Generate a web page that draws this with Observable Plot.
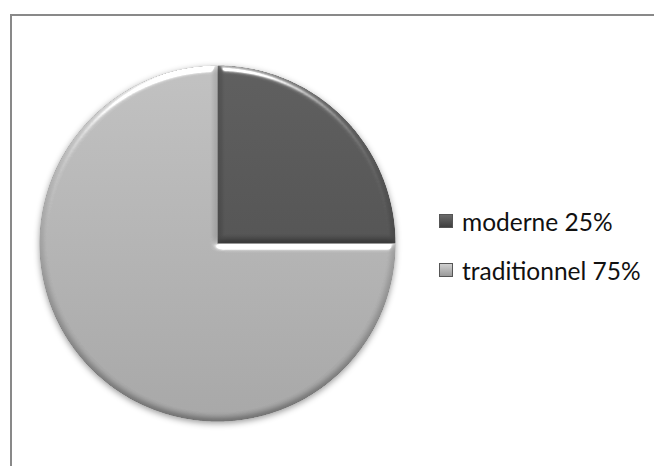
<!DOCTYPE html>
<html>
<head>
<meta charset="utf-8">
<script src="https://cdn.jsdelivr.net/npm/d3@7"></script>
<script src="https://cdn.jsdelivr.net/npm/@observablehq/plot@0.6"></script>
<style>
  html, body { margin: 0; padding: 0; background: #fff; }
  #wrap { position: relative; width: 654px; height: 466px; overflow: hidden; }
  #frame { position: absolute; left: 10px; top: 14px; width: 700px; height: 500px;
           border-top: 2px solid #898989; border-left: 2px solid #898989; }
  #chart { position: absolute; left: 0; top: 0; }
  .pie { filter: drop-shadow(0px 2px 3px rgba(0,0,0,0.4)); }
  .pie path { filter: url(#bevel); }
  #legend { position: absolute; left: 439px; top: 0; font-family: Lato, sans-serif; font-size: 24.5px; color: #111; }
  .item { position: absolute; left: 0; white-space: nowrap; display: flex; align-items: center; }
  .sw { width: 14px; height: 14px; margin-right: 9px; box-sizing: border-box; border: 1px solid #555; }
</style>
</head>
<body>
<svg width="0" height="0" style="position:absolute">
  <defs>
    <linearGradient id="gDark" x1="0" y1="0" x2="0" y2="1">
      <stop offset="0" stop-color="#5a5a5a"/>
      <stop offset="1" stop-color="#505050"/>
    </linearGradient>
    <linearGradient id="gLight" x1="0" y1="0" x2="0" y2="1">
      <stop offset="0" stop-color="#bcbcbc"/>
      <stop offset="1" stop-color="#a2a2a2"/>
    </linearGradient>
    <filter id="bevel" x="-5%" y="-5%" width="110%" height="110%" color-interpolation-filters="sRGB">
      <feGaussianBlur in="SourceAlpha" stdDeviation="3" result="blur"/>
      <feDiffuseLighting in="blur" surfaceScale="4" diffuseConstant="1" lighting-color="#ffffff" result="diff">
        <feDistantLight azimuth="270" elevation="45"/>
      </feDiffuseLighting>
      <feSpecularLighting in="blur" surfaceScale="4" specularConstant="1" specularExponent="30" lighting-color="#ffffff" result="spec">
        <feDistantLight azimuth="270" elevation="35"/>
      </feSpecularLighting>
      <feComposite in="SourceGraphic" in2="diff" operator="arithmetic" k1="0.41" k2="0.71" k3="0" k4="0" result="shade"/>
      <feComposite in="spec" in2="SourceAlpha" operator="in" result="specIn"/>
      <feComposite in="shade" in2="specIn" operator="arithmetic" k1="0" k2="1" k3="0.85" k4="0" result="lit"/>
      <feComposite in="lit" in2="SourceAlpha" operator="in"/>
    </filter>
  </defs>
</svg>
<div id="wrap">
  <div id="frame"></div>
  <div id="chart"></div>
  <div id="legend"></div>
</div>
<script>
// Data
const categories = ["moderne", "traditionnel"];
const shares = [25, 75];
const legendLabels = ["moderne 25%", "traditionnel 75%"];

// Styles (kept apart from data)
const sliceFills = ["url(#gDark)", "url(#gLight)"];
const swatchFills = ["linear-gradient(#6a6a6a, #3f3f3f)", "linear-gradient(#d0d0d0, #9a9a9a)"];

// Build slice outlines from pie angles
const arcs = d3.pie().sort(null).value(d => d.share)(
  categories.map((c, i) => ({cat: c, share: shares[i]}))
);
const pts = [];
for (const a of arcs) {
  pts.push({cat: a.data.cat, x: 0, y: 0});
  const n = Math.max(2, Math.ceil((a.endAngle - a.startAngle) / (Math.PI / 360)));
  for (let k = 0; k <= n; k++) {
    const t = a.startAngle + (a.endAngle - a.startAngle) * k / n;
    pts.push({cat: a.data.cat, x: Math.sin(t), y: Math.cos(t)});
  }
}

const chart = Plot.plot({
  width: 654,
  height: 466,
  marginLeft: 39,
  marginRight: 259,
  marginTop: 65,
  marginBottom: 45,
  x: {domain: [-1, 1], axis: null},
  y: {domain: [-1, 1], axis: null},
  color: {type: "ordinal", domain: categories, range: sliceFills},
  marks: [
    Plot.line(pts, {x: "x", y: "y", z: "cat", fill: "cat", stroke: "none", curve: "linear-closed", className: "pie"})
  ]
});
chart.style.background = "transparent";
document.getElementById("chart").appendChild(chart);

// Legend
const legend = document.getElementById("legend");
const centers = [221, 270];
legendLabels.forEach((lab, i) => {
  const it = document.createElement("div");
  it.className = "item";
  it.style.top = (centers[i] - 15) + "px";
  it.style.height = "30px";
  const sw = document.createElement("span");
  sw.className = "sw";
  sw.style.background = swatchFills[i];
  const tx = document.createElement("span");
  tx.textContent = lab;
  it.appendChild(sw);
  it.appendChild(tx);
  legend.appendChild(it);
});
</script>
</body>
</html>
